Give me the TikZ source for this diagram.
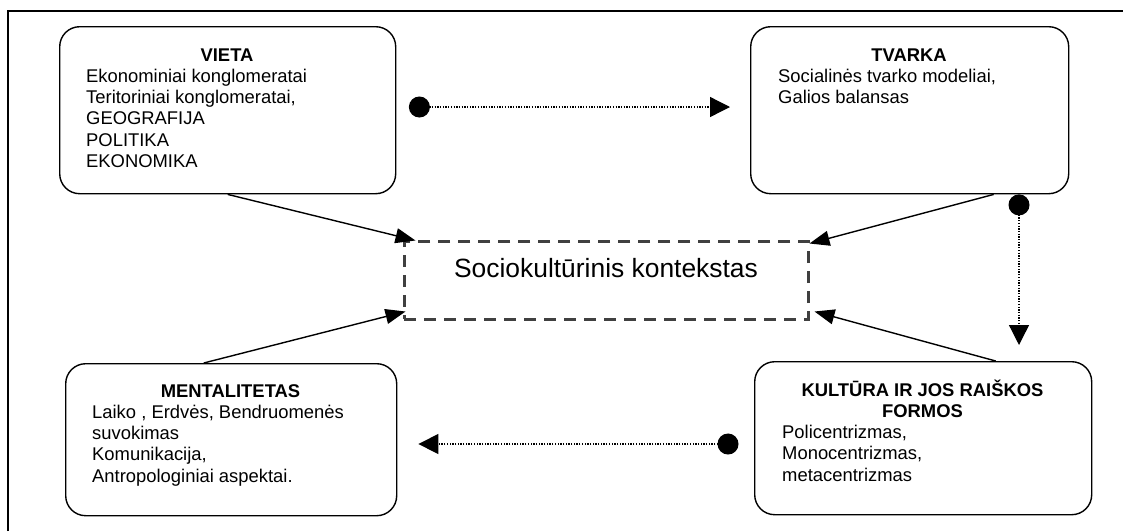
\documentclass[tikz,border=0pt]{standalone}
\usepackage{fontspec}
\setmainfont{Liberation Sans}
\usetikzlibrary{arrows.meta}
\begin{document}
\begin{tikzpicture}[x=1pt,y=-1pt,
  frameline/.style={line width=2pt},
  card/.style={draw, line width=1.4pt, rounded corners=20pt, anchor=north west, inner sep=0pt},
  ttl/.style={font=\fontsize{18.4}{21.3}\selectfont\bfseries, inner sep=0pt, anchor=base},
  txt/.style={font=\fontsize{18.4}{21.3}\selectfont, inner sep=0pt, anchor=base west},
  ctxbox/.style={draw=black!75, line width=3pt, dash pattern=on 12pt off 8pt,
    minimum width=404pt, minimum height=78pt, inner sep=0pt,
    font=\fontsize{26.4}{30}\selectfont, text height=10pt, text depth=16pt},
  link/.style={line width=1.4pt, -{Triangle[length=20pt,width=15pt]}},
  flow/.style={line width=1.3pt, dash pattern=on 1.3pt off 1.4pt,
    {Circle[length=21pt]}-{Triangle[length=20pt,width=20pt]}},
]
\useasboundingbox (0,0) rectangle (1123,531);
\fill[white] (0,0) rectangle (1123,531);
\draw[frameline] (8,531) -- (8,11) -- (1123,11);

% boxes
\node[card, minimum width=336pt, minimum height=167pt] (vieta) at (59,26) {};
\node[card, minimum width=318pt, minimum height=167pt] (tvarka) at (750,26) {};
\node[card, minimum width=331pt, minimum height=152pt] (ment) at (65,363) {};
\node[card, minimum width=337pt, minimum height=153pt] (kultura) at (754,361) {};
\node[ctxbox] (ctx) at (606,280) {Sociokultūrinis kontekstas};

% texts
\node[ttl] (vieta-t) at (227,61) {VIETA};
\node[txt] (vieta-b) at (86,82.3) {\parbox[t]{300pt}{Ekonominiai konglomeratai\\Teritoriniai konglomeratai,\\GEOGRAFIJA\\POLITIKA\\EKONOMIKA}};

\node[ttl] (tvarka-t) at (909,61) {TVARKA};
\node[txt] (tvarka-b) at (778,82.3) {\parbox[t]{280pt}{Socialinės tvarko modeliai,\\Galios balansas}};

\node[ttl] (ment-t) at (230.5,397) {MENTALITETAS};
\node[txt] (ment-b) at (92,418.3) {\parbox[t]{300pt}{Laiko , Erdvės, Bendruomenės\\suvokimas\\Komunikacija,\\Antropologiniai aspektai.}};

\node[ttl] (kultura-t) at (922.5,396) {\parbox[t]{330pt}{\centering KULTŪRA IR JOS RAIŠKOS\\FORMOS}};
\node[txt] (kultura-b) at (782,438.6) {\parbox[t]{300pt}{Policentrizmas,\\Monocentrizmas,\\metacentrizmas}};

% helper coordinates for the dotted connectors
\coordinate (ty) at (0,107);
\coordinate (vx) at (1019,0);
\coordinate (hy) at (0,444);

% dotted connectors
\draw[flow, shorten <=12.5pt, shorten >=20pt] (vieta.east |- ty) -- (tvarka.west |- ty);
\draw[flow, shorten <=0pt, shorten >=16pt] (tvarka.south -| vx) -- (kultura.north -| vx);
\draw[flow, shorten <=15.5pt, shorten >=21pt] (kultura.west |- hy) -- (ment.east |- hy);

% solid arrows into context
\draw[link] (vieta.south) -- ([xshift=13pt,yshift=-1pt]ctx.north west);
\draw[link] ([xshift=84pt]tvarka.south) -- ([yshift=-4pt]ctx.north east);
\draw[link] ([xshift=-27.5pt]ment.north) -- ([xshift=3pt,yshift=9pt]ctx.south west);
\draw[link] ([xshift=72.5pt]kultura.north) -- ([xshift=5pt,yshift=9pt]ctx.south east);
\end{tikzpicture}
\end{document}
